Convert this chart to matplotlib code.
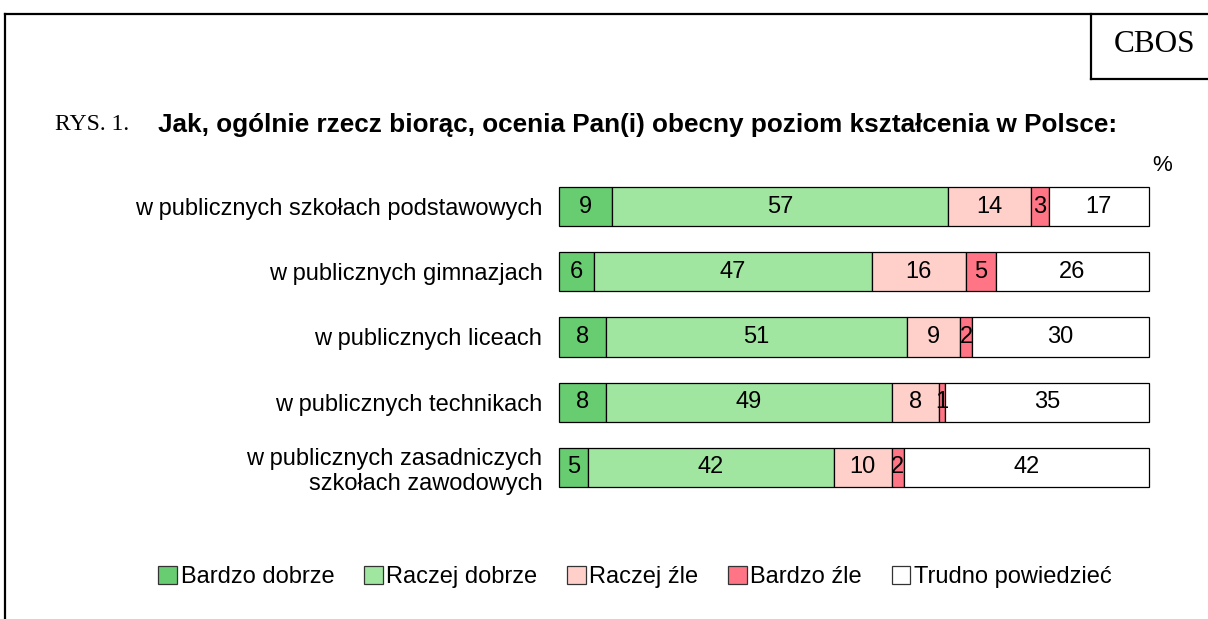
import matplotlib.pyplot as plt
from matplotlib.lines import Line2D
from matplotlib.patches import Patch

plt.rcParams["font.family"] = ["Liberation Sans", "DejaVu Sans"]

# ---------------------------------------------------------------------------
# Data
# ---------------------------------------------------------------------------

categories = [
    "w publicznych szkołach podstawowych",
    "w publicznych gimnazjach",
    "w publicznych liceach",
    "w publicznych technikach",
    "w publicznych zasadniczych\nszkołach zawodowych",
]
series_names = ["Bardzo dobrze", "Raczej dobrze", "Raczej źle", "Bardzo źle",
                "Trudno powiedzieć"]
bardzo_dobrze = [9, 6, 8, 8, 5]
raczej_dobrze = [57, 47, 51, 49, 42]
raczej_zle = [14, 16, 9, 8, 10]
bardzo_zle = [3, 5, 2, 1, 2]
trudno = [17, 26, 30, 35, 42]

colors = ["#68CD71", "#A0E6A0", "#FFD0CA", "#FF7585", "#FFFFFF"]

series = [bardzo_dobrze, raczej_dobrze, raczej_zle, bardzo_zle, trudno]

# ---------------------------------------------------------------------------
# Figure
# ---------------------------------------------------------------------------

W, H = 1208, 619
fig = plt.figure(figsize=(W / 100, H / 100), dpi=100)


def fx(px):
    return px / W


def fy(py):
    return 1 - py / H


ax = fig.add_axes([fx(559), fy(500), fx(1149) - fx(559), fy(174) - fy(500)])

# rows sum to 100 or 101 (rounding), so scale each row to full width
totals = [sum(s[i] for s in series) for i in range(len(categories))]
ypos = list(range(len(categories)))
left = [0.0] * len(categories)
for vals, col in zip(series, colors):
    widths = [v / t * 100 for v, t in zip(vals, totals)]
    bars = ax.barh(ypos, widths, left=left, height=0.6, color=col,
                   edgecolor="black", linewidth=0.9)
    for b in bars:
        b.set_clip_on(False)
    for y, l, w, v in zip(ypos, left, widths, vals):
        ax.text(l + w / 2, y, str(v), ha="center", va="center", fontsize=17)
    left = [l + w for l, w in zip(left, widths)]

ax.set_xlim(0, 100)
ax.set_ylim(len(categories) - 0.5, -0.5)
ax.set_yticks(ypos)
ax.set_yticklabels(categories, fontsize=17)
for lab in ax.get_yticklabels():
    lab.set_multialignment("right")
ax.tick_params(axis="y", length=0, pad=12)
ax.set_xticks([])
for sp in ax.spines.values():
    sp.set_visible(False)

# Frame lines
fig.add_artist(Line2D([fx(5), 1], [fy(14), fy(14)], color="black", lw=1.6))
fig.add_artist(Line2D([fx(5), fx(5)], [fy(14), 0], color="black", lw=1.6))
fig.add_artist(Line2D([fx(1091), fx(1091)], [fy(14), fy(79)], color="black", lw=1.6))
fig.add_artist(Line2D([fx(1091), 1], [fy(79), fy(79)], color="black", lw=1.6))

fig.text(fx(1155), fy(45), "CBOS", ha="center", va="center", fontsize=22.5,
         family="Liberation Serif")
fig.text(fx(55), fy(125), "RYS. 1.", ha="left", va="center", fontsize=17,
         family="Liberation Serif")
fig.text(fx(158), fy(125), "Jak, ogólnie rzecz biorąc, ocenia Pan(i) obecny poziom kształcenia w Polsce:",
         ha="left", va="center", fontsize=18.8, fontweight="bold")
fig.text(fx(1162), fy(166), "%", ha="center", va="center", fontsize=16)

handles = [Patch(facecolor=c, edgecolor="#333333", linewidth=0.9) for c in colors]
fig.legend(handles, series_names, loc="center", bbox_to_anchor=(fx(635), fy(577)),
           ncol=5, frameon=False, fontsize=17, handlelength=0.8, handleheight=0.8,
           handletextpad=0.15, columnspacing=1.25)

plt.savefig("out.png", dpi=100)
